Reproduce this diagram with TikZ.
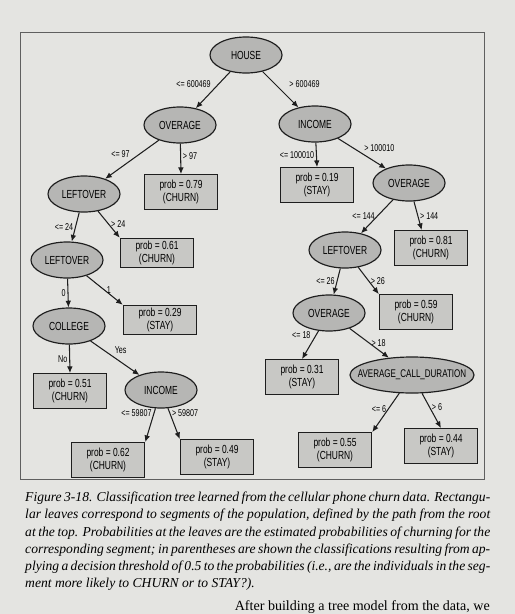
\documentclass[tikz,border=0pt]{standalone}
\usepackage{fontspec}
\usepackage{tikz}
\usetikzlibrary{positioning,arrows.meta,shapes.geometric,calc,backgrounds}

\newfontfamily\treefont[FakeStretch=0.72]{Liberation Sans}
\newfontfamily\capfont{Liberation Serif}

\definecolor{pagebg}{RGB}{228,228,225}
\definecolor{splitfill}{RGB}{182,182,180}
\definecolor{leaffill}{RGB}{200,200,197}
\definecolor{inkline}{RGB}{30,30,30}
\definecolor{framec}{RGB}{95,95,95}

\begin{document}
\begin{tikzpicture}[
	x=0.03cm, y=-0.03cm,
	font=\treefont\fontsize{10}{10.5}\selectfont,
	split/.style={
		draw=inkline,
		ellipse,
		line width=1pt,
		fill=splitfill,
		minimum width=2.16cm,
		minimum height=1.08cm,
		inner sep=1pt,
	},
	leaf/.style={
		draw=inkline,
		line width=1pt,
		fill=leaffill,
		minimum width=2.2cm,
		minimum height=1.04cm,
		align=center,
		inner sep=1pt,
	},
	arr/.style={-{Latex[length=2mm,width=1.7mm]}, line width=0.9pt, draw=inkline},
	lbl/.style={font=\treefont\fontsize{8.5}{9}\selectfont, inner sep=1.5pt},
	caption/.style={font=\capfont\itshape\fontsize{11.6}{14.6}\selectfont, text width=13.95cm, align=justify, inner sep=0pt},
]

% page and frame
\useasboundingbox[fill=pagebg] (0,0) rectangle (515,614);
\draw[framec, line width=0.6pt] (20,32) rectangle (484,479);

% split nodes
\node[split] (house) at (246,55) {HOUSE};
\node[split] (ovg1) at (180,125) {OVERAGE};
\node[split] (inc1) at (315,124) {INCOME};
\node[split] (lft1) at (84,194) {LEFTOVER};
\node[split] (ovg2) at (409,183) {OVERAGE};
\node[split] (lft2) at (67,260) {LEFTOVER};
\node[split] (lft3) at (345,250) {LEFTOVER};
\node[split] (col) at (69,326) {COLLEGE};
\node[split] (ovg3) at (329,313) {OVERAGE};
\node[split] (inc2) at (161,390) {INCOME};
\node[split, minimum width=3.72cm, font=\treefont\fontsize{9.5}{10}\selectfont] (acd) at (412,375) {\makebox[2.55cm]{AVERAGE\_CALL\_DURATION}};

% leaves
\node[leaf] (p079) at (181,192) {prob = 0.79\\(CHURN)};
\node[leaf] (p019) at (317,185) {prob = 0.19\\(STAY)};
\node[leaf, minimum height=0.88cm] (p061) at (157,253) {prob = 0.61\\(CHURN)};
\node[leaf] (p081) at (431,248) {prob = 0.81\\(CHURN)};
\node[leaf, minimum height=0.88cm] (p029) at (160,320) {prob = 0.29\\(STAY)};
\node[leaf] (p059) at (416,312) {prob = 0.59\\(CHURN)};
\node[leaf] (p031) at (302,377) {prob = 0.31\\(STAY)};
\node[leaf] (p051) at (70,391) {prob = 0.51\\(CHURN)};
\node[leaf] (p062) at (108,460) {prob = 0.62\\(CHURN)};
\node[leaf] (p049) at (217,457) {prob = 0.49\\(STAY)};
\node[leaf] (p055) at (335,450) {prob = 0.55\\(CHURN)};
\node[leaf] (p044) at (441,446) {prob = 0.44\\(STAY)};

% edges
\draw[arr] (house) -- node[lbl, above left] {<= 600469} (ovg1);
\draw[arr] (house) -- node[lbl, above right, xshift=0.2cm] {> 600469} (inc1);
\draw[arr] (ovg1) -- node[lbl, above left] {<= 97} (lft1);
\draw[arr] (ovg1) -- node[lbl, right, pos=0.4] {> 97} (p079.north);
\draw[arr] (inc1) -- node[lbl, left] {<= 100010} (p019.north);
\draw[arr] (inc1) -- node[lbl, above right] {> 100010} (ovg2);
\draw[arr] (lft1) -- node[lbl, left] {<= 24} (lft2);
\draw[arr] (lft1) -- node[lbl, right] {> 24} (p061.north west);
\draw[arr] (ovg2) -- node[lbl, left] {<= 144} (lft3);
\draw[arr] (ovg2.-75) -- node[lbl, right] {> 144} ($(p081.north west)!0.75!(p081.north)$);
\draw[arr] (lft2) -- node[lbl, left] {0} (col);
\draw[arr] (lft2) -- node[lbl, right] {1} (p029.north west);
\draw[arr] (lft3) -- node[lbl, left] {<= 26} (ovg3);
\draw[arr] (lft3) -- node[lbl, right] {> 26} (p059.north west);
\draw[arr] (col) -- node[lbl, left] {No} (p051.north);
\draw[arr] (col) -- node[lbl, above right, pos=0.45] {Yes} (inc2);
\draw[arr] (ovg3) -- node[lbl, above left, pos=0.35] {<= 18} (p031.north);
\draw[arr] (ovg3) -- node[lbl, right] {> 18} (acd);
\draw[arr] (inc2) -- node[lbl, left, pos=0.15] {<= 59807} (p062.north east);
\draw[arr] (inc2) -- node[lbl, right, pos=0.15] {> 59807} (p049.north west);
\draw[arr] (acd) -- node[lbl, left, pos=0.4] {<= 6} (p055.north east);
\draw[arr] (acd) -- node[lbl, right, pos=0.4] {> 6} (p044.north);

% caption under the frame
\node[caption, anchor=north west] (cap) at (25,492) {Figure 3-18. Classification tree learned from the cellular phone churn data. Rectangu-\linebreak
lar leaves correspond to segments of the population, defined by the path from the root\linebreak
at the top. Probabilities at the leaves are the estimated probabilities of churning for the\linebreak
corresponding segment; in parentheses are shown the classifications resulting from ap-\linebreak
plying a decision threshold of 0.5 to the probabilities (i.e., are the individuals in the seg-\linebreak
ment more likely to CHURN or to STAY?).};
\node[font=\capfont\fontsize{12}{14}\selectfont, anchor=east, inner sep=0pt] (next) at (490,607) {After building a tree model from the data, we};

\end{tikzpicture}
\end{document}
